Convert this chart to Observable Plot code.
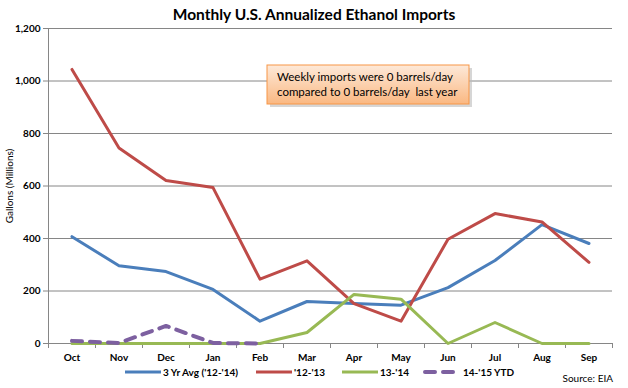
<!DOCTYPE html>
<html><head><meta charset="utf-8">
<script src="https://cdn.jsdelivr.net/npm/d3@7"></script>
<script src="https://cdn.jsdelivr.net/npm/@observablehq/plot@0.6"></script>
<style>
html,body{margin:0;padding:0;background:#fff;}
#chart svg{display:block;font-family:Lato,"DejaVu Sans",sans-serif;}
</style>
</head><body><div id="chart"></div>
<script>
const months = ["Oct","Nov","Dec","Jan","Feb","Mar","Apr","May","Jun","Jul","Aug","Sep"];
const avg3yr = [407,296,274,206,85,160,152,146,213,316,453,381];
const fy1213 = [1044,745,621,594,245,315,152,85,397,495,463,309];
const fy1314 = [0,0,0,0,0,42,187,169,0,80,0,0];
const fy1415 = [10,2,67,2,0];
const seriesNames = ["3 Yr Avg ('12-'14)","'12-'13","13-'14","14-'15 YTD"];
const seriesColors = ["#4a7ebb","#be4b48","#98b954","#7d60a0"];
const yTicks = [0,200,400,600,800,1000,1200];
const title = "Monthly U.S. Annualized Ethanol Imports";
const yLabel = "Gallons (Millions)";
const source = "Source: EIA";
const noteLines = ["Weekly imports were 0 barrels/day","compared to 0 barrels/day  last year"];

const allSeries = [avg3yr, fy1213, fy1314, fy1415];
const rows = [];
allSeries.forEach((vals, s) => vals.forEach((v, i) => rows.push({series: seriesNames[s], i, month: months[i], v})));
const solid = rows.filter(d => d.series !== seriesNames[3]);
const dashed = rows.filter(d => d.series === seriesNames[3]);
const idx = months.map((_, i) => i);
const bounds = d3.range(-0.5, months.length, 1);

const W = 628, H = 388;
const chart = Plot.plot({
  width: W, height: H,
  marginLeft: 48, marginRight: 16, marginTop: 28, marginBottom: 45,
  style: {fontFamily: "Lato, 'DejaVu Sans', sans-serif", background: "#fff"},
  x: {type: "linear", domain: [-0.5, months.length - 0.5]},
  y: {domain: [0, 1200]},
  color: {domain: seriesNames, range: seriesColors},
  marks: [
    Plot.gridY(yTicks.slice(1), {stroke: "#868686", strokeOpacity: 1}),
    Plot.ruleY([0], {stroke: "#868686"}),
    Plot.ruleX([-0.5], {stroke: "#868686"}),
    Plot.axisY(yTicks, {tickSize: 5, tickPadding: 3, stroke: "#868686", fill: "#000", fontSize: 10, fontWeight: "bold", tickFormat: d3.format(","), label: null}),
    Plot.axisX(bounds, {tickSize: 5, stroke: "#868686", strokeOpacity: 1, tickFormat: () => "", label: null}),
    Plot.axisX(idx, {tickSize: 0, tickPadding: 10, fill: "#000", fontSize: 10, fontWeight: "bold", tickFormat: i => months[i], label: null}),
    Plot.line(solid, {x: "i", y: "v", z: "series", stroke: "series", strokeWidth: 3}),
    Plot.line(dashed, {x: "i", y: "v", stroke: "series", strokeWidth: 4, strokeDasharray: "10,8", strokeLinecap: "round"})
  ]
});
document.getElementById("chart").appendChild(chart);

const svg = d3.select(chart);
// title
svg.append("text").attr("x", 314).attr("y", 20).attr("text-anchor", "middle")
  .attr("font-size", 15.5).attr("font-weight", "bold").attr("fill", "#000").text(title);
// y label
svg.append("text").attr("transform", "translate(13,186) rotate(-90)").attr("text-anchor", "middle")
  .attr("font-size", 10).attr("fill", "#000").text(yLabel);
// source
svg.append("text").attr("x", 613).attr("y", 382).attr("text-anchor", "end")
  .attr("font-size", 10).attr("fill", "#000").text(source);
// note box
const defs = svg.append("defs");
const g = defs.append("linearGradient").attr("id", "noteGrad").attr("x1", 0).attr("y1", 0).attr("x2", 0).attr("y2", 1);
g.append("stop").attr("offset", "0%").attr("stop-color", "#fde9d9");
g.append("stop").attr("offset", "100%").attr("stop-color", "#fab882");
svg.append("rect").attr("x", 270).attr("y", 68).attr("width", 202).attr("height", 39).attr("fill", "#bbb").attr("opacity", 0.6);
svg.append("rect").attr("x", 267).attr("y", 65).attr("width", 202).attr("height", 39)
  .attr("fill", "url(#noteGrad)").attr("stroke", "#f79646").attr("stroke-width", 1);
noteLines.forEach((t, k) => svg.append("text").attr("x", 277).attr("y", 81 + k * 15).attr("text-anchor", "start")
  .attr("font-size", 11.5).attr("fill", "#000").text(t));
// legend
const legX = [125, 256, 342, 425];
seriesNames.forEach((n, k) => {
  const ln = svg.append("line").attr("x1", legX[k]).attr("x2", legX[k] + 36).attr("y1", 372).attr("y2", 372)
    .attr("stroke", seriesColors[k]).attr("stroke-width", k === 3 ? 4 : 3);
  if (k === 3) ln.attr("stroke-dasharray", "10,8").attr("stroke-linecap", "round");
  svg.append("text").attr("x", legX[k] + 38).attr("y", 375.5).attr("text-anchor", "start").attr("font-size", 10).attr("font-weight", "bold")
    .attr("fill", "#000").text(n);
});
</script>
</body></html>
